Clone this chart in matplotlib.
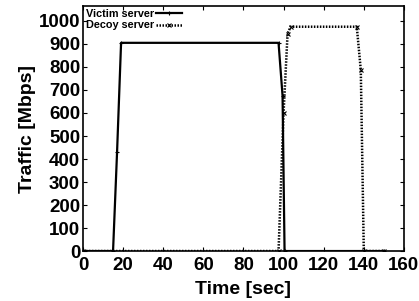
import matplotlib
matplotlib.use("Agg")
import matplotlib.pyplot as plt

# key points (time in sec, traffic in Mbps)
victim_t = [0, 15, 17, 19, 97.5, 99.5, 100.5, 150]
victim_v = [0, 0, 430, 905, 905, 675, 0, 0]

decoy_t = [0, 97.5, 100, 102, 103.5, 136.5, 138.5, 140, 150]
decoy_v = [0, 0, 600, 945, 975, 975, 787, 0, 0]

x_ticks = [0, 20, 40, 60, 80, 100, 120, 140, 160]
y_ticks = [0, 100, 200, 300, 400, 500, 600, 700, 800, 900, 1000]

plt.rcParams['font.family'] = ['Liberation Sans', 'DejaVu Sans']

fig = plt.figure(figsize=(4.19, 3.01), dpi=100)
ax = fig.add_axes([0.198, 0.166, 0.766, 0.814])

ax.plot(victim_t, victim_v, color='black', linestyle='-', linewidth=1.6,
        marker='+', markersize=3, markeredgewidth=0.8, label='Victim server')
ax.plot(decoy_t, decoy_v, color='black', linestyle=(0, (0.6, 0.6)), linewidth=1.8,
        marker='x', markersize=2.5, markeredgewidth=0.8, label='Decoy server')

ax.set_xlim(0, 160)
ax.set_ylim(0, 1065)
ax.set_xticks(x_ticks)
ax.set_yticks(y_ticks)
ax.tick_params(direction='in', length=3, width=0.8, top=True, right=True,
               labelsize=13.5)
ax.tick_params(axis='y', pad=2)
ax.tick_params(axis='x', pad=4)
for lab in ax.get_xticklabels() + ax.get_yticklabels():
    lab.set_fontweight('bold')
for s in ax.spines.values():
    s.set_linewidth(1.2)

ax.set_xlabel('Time [sec]', fontsize=14, fontweight='bold', labelpad=5)
ax.set_ylabel('Traffic [Mbps]', fontsize=14, fontweight='bold', labelpad=2)

leg = ax.legend(loc='upper left', frameon=False, markerfirst=False,
                prop={'size': 7.8, 'weight': 'bold'},
                handlelength=2.4, handletextpad=0.2, labelspacing=0.15,
                borderaxespad=0.15, borderpad=0.1)

fig.savefig('out.png', dpi=100)
